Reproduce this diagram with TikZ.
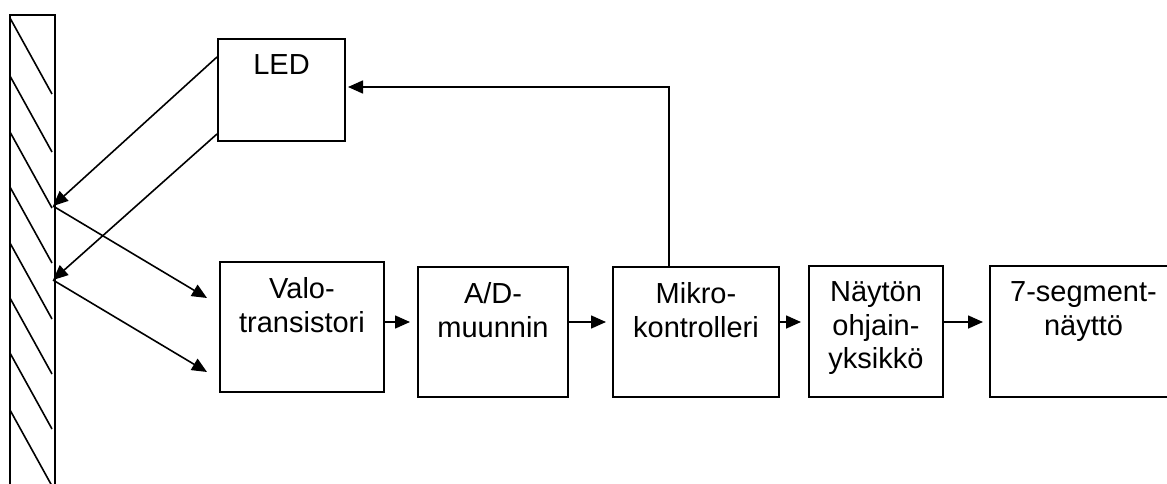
\documentclass[tikz,border=0pt]{standalone}
\usepackage{fontspec}
\setmainfont{Liberation Sans}
\usetikzlibrary{arrows.meta}
\tikzset{
  box/.style={draw, line width=2pt, rectangle, inner sep=0pt},
  lbl/.style={align=center, inner sep=0pt, anchor=north, font=\fontsize{29}{33.5}\selectfont},
  arr/.style={line width=1.6pt, -{Triangle[length=15pt,width=13pt]}},
  hatch/.style={line width=1.6pt},
}
\begin{document}
\begin{tikzpicture}[x=1pt, y=-1pt]
  \useasboundingbox (0,0) rectangle (1167,484);
  \clip (0,0) rectangle (1167,484);

  % reflecting surface with hatching
  \draw[line width=2pt] (10,500) -- (10,15) -- (55,15) -- (55,500);
  \foreach \yy in {18,76,132,187,243,298,353,410}
    \draw[hatch] (10,\yy) -- (52,\yy+76);
  \coordinate (r1) at (53,206);
  \coordinate (r2) at (53,280);

  % blocks
  \node[box, minimum width=127pt, minimum height=102pt] (led)    at (281.5,90)  {};
  \node[box, minimum width=164pt, minimum height=130pt] (valo)   at (302,327)   {};
  \node[box, minimum width=150pt, minimum height=130pt] (ad)     at (493,332)   {};
  \node[box, minimum width=166pt, minimum height=130pt] (mikro)  at (696,332)   {};
  \node[box, minimum width=134pt, minimum height=131pt] (nayton) at (876,331.5) {};
  \node[box, minimum width=190pt, minimum height=131pt] (seg)    at (1085,331.5){};

  % block labels
  \node[lbl] (ledT)    at ([yshift=-16.5pt]led.north)    {LED};
  \node[lbl] (valoT)   at ([yshift=-16.5pt]valo.north)   {Valo-\\transistori};
  \node[lbl] (adT)     at ([yshift=-16.5pt]ad.north)     {A/D-\\muunnin};
  \node[lbl] (mikroT)  at ([yshift=-16.5pt]mikro.north)  {Mikro-\\kontrolleri};
  \node[lbl] (naytonT) at ([yshift=-16.5pt]nayton.north) {Näytön\\ohjain-\\yksikkö};
  \node[lbl] (segT)    at ([xshift=-1.5pt,yshift=-16.5pt]seg.north) {7-segment-\\näyttö};

  % light paths: LED -> surface -> phototransistor
  \draw[arr] (led.west |- 0,57)  -- (r1);
  \draw[arr] (led.west |- 0,134) -- (r2);
  \coordinate (v1) at (207,298);
  \coordinate (v2) at (207,372);
  \draw[arr] (r1) -- (v1);
  \draw[arr] (r2) -- (v2);

  % signal chain
  \draw[arr, shorten >=7pt] (valo.east |- 0,322)   -- (ad.west |- 0,322);
  \draw[arr, shorten >=6pt] (ad.east |- 0,322)     -- (mikro.west |- 0,322);
  \draw[arr, shorten >=7pt] (mikro.east |- 0,322)  -- (nayton.west |- 0,322);
  \draw[arr, shorten >=6pt] (nayton.east |- 0,322) -- (seg.west |- 0,322);

  % feedback to the LED
  \draw[arr, shorten >=2pt] (mikro.north -| 669,0) |- (led.east |- 0,87);
\end{tikzpicture}
\end{document}
